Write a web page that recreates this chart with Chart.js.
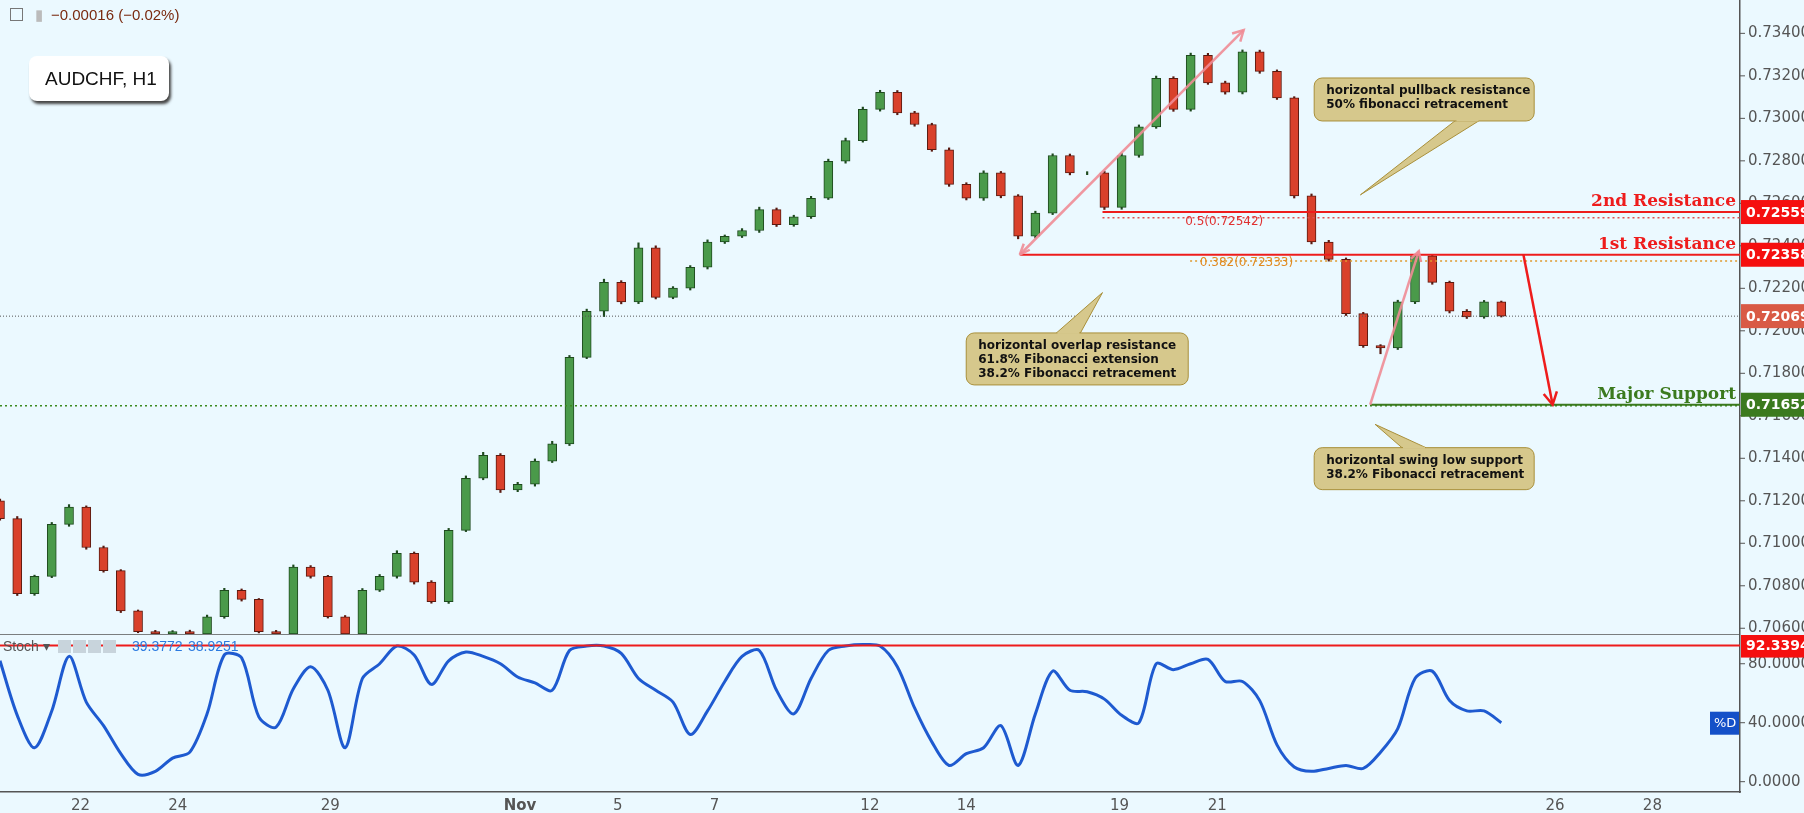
<!DOCTYPE html>
<html><head><meta charset="utf-8">
<script src="https://cdn.jsdelivr.net/npm/chart.js@4.4.1/dist/chart.umd.min.js"></script>
<style>
html,body{margin:0;padding:0;background:#ebf9ff;}
#w{position:relative;width:1804px;height:813px;background:#ebf9ff;font-family:"DejaVu Sans",sans-serif;}
canvas{position:absolute;left:0;}
#c1{top:0}#c2{top:635px}
#hdr{position:absolute;left:10px;top:6px;font-size:15px;color:#7a2a10;font-family:"Liberation Sans",sans-serif}
#sym{position:absolute;left:29px;top:56px;width:140px;height:45px;background:#fff;border-radius:8px;box-shadow:2px 3px 3px #444;font:19px "Liberation Sans",sans-serif;line-height:45px;padding-left:16px;box-sizing:border-box;color:#111}
</style></head><body>
<div id="w">
<canvas id="c1" width="1804" height="635"></canvas>
<canvas id="c2" width="1804" height="178"></canvas>
<div id="hdr"><span style="display:inline-block;width:11px;height:11px;border:1px solid #777;vertical-align:-1px;margin-right:12px"></span><span style="color:#bbb;margin-right:8px">&#9646;</span>−0.00016 (−0.02%)</div>
<div id="sym">AUDCHF, H1</div>
</div>
<script>
// ---- data ----
const tickLabels = ['22','24','29','Nov','5','7','12','14','19','21','26','28'];
const tickDays   = [0, 2.0, 5.13, 9.03, 11.04, 13.03, 16.22, 18.2, 21.35, 23.36, 30.3, 32.3];
const firstBarDay = -1.655, barStepDays = 0.3546;
const firstOpen = 0.7120;
const closes = [0.71116,0.70763,0.70844,0.71089,0.71170,0.70980,0.70871,0.70682,0.70584,0.70573,0.70584,0.70573,
0.70654,0.70779,0.70736,0.70584,0.70573,0.70888,0.70844,0.70654,0.70573,0.70779,0.70844,0.70953,0.70817,0.70725,
0.71061,0.71306,0.71414,0.71251,0.71278,0.71387,0.71468,0.71875,0.72092,0.72228,0.72136,0.72391,0.72157,0.72201,
0.72299,0.72418,0.72445,0.72472,0.72570,0.72499,0.72537,0.72624,0.72798,0.72895,0.73042,0.73123,0.73026,0.72971,
0.72852,0.72689,0.72624,0.72743,0.72635,0.72445,0.72554,0.72825,0.72743,0.72743,0.72581,0.72825,0.72960,0.73188,
0.73042,0.73297,0.73167,0.73123,0.73313,0.73221,0.73096,0.72635,0.72418,0.72336,0.72081,0.71930,0.71919,0.72136,
0.72353,0.72228,0.72092,0.72065,0.72136,0.72069];
const highExtPips = [8,10,6,9,12,6,7,5,4,6,5,7,8,9,6,4,6,10,7,5,6,8,9,12,6,7,9,11,14,8,9,10,12,9,10,15,8,23,9,7,
8,10,6,9,12,8,7,9,10,12,11,9,8,7,6,9,8,10,7,6,9,8,7,6,8,10,9,11,8,10,9,8,9,8,7,6,9,8,7,6,5,8,5,7,6,8,7,4];
const lowExtPips  = [7,9,8,6,9,8,7,8,5,6,7,6,9,7,8,6,5,7,8,6,9,7,6,8,9,7,8,6,7,12,8,9,7,8,6,25,9,8,7,6,
9,8,7,6,9,8,7,8,6,9,7,8,9,8,7,9,8,10,9,12,8,7,9,8,10,9,8,7,9,8,7,9,8,9,7,10,9,8,9,8,27,7,8,9,8,7,6,4];
const stochD = [82,45,23,48,85,54,38,19,5,7,16,20,46,86,84,44,37,63,78,62,23,70,80,92,86,66,82,88,85,80,71,67,62,89,
92,92,87,70,62,54,32,48,68,85,89,62,46,70,89,92,93,92,78,50,27,11,19,23,38,11,46,75,62,61,56,45,40,80,76,80,83,68,
68,55,25,10,7,9,11,9,20,36,70,75,55,48,48,40];
const priceTicks = [0.706,0.708,0.710,0.712,0.714,0.716,0.718,0.720,0.722,0.724,0.726,0.728,0.730,0.732,0.734];
const stochTicks = [0,40,80];
const levels = {r2:0.72559, r1:0.72358, fib50:0.72542, fib382:0.72333, cur:0.72069, sup:0.71652, stochHi:92.3394};

// ---- build ----
const n = Math.min(closes.length, highExtPips.length, lowExtPips.length);
const days = [], bodies = [], wicks = [], fill = [], edge = [];
for (let i=0;i<n;i++){
  const o = i===0?firstOpen:closes[i-1], c = closes[i];
  const d = firstBarDay + i*barStepDays; days.push(d);
  const hi = Math.max(o,c)+highExtPips[i]*1e-5, lo = Math.min(o,c)-lowExtPips[i]*1e-5;
  bodies.push({x:d,y:[o,c]}); wicks.push({x:d,y:[lo,hi]});
  const up = c>=o; fill.push(up?'#4a9a4a':'#d9412b'); edge.push(up?'#1e4a1e':'#5a1a10');
}
const stochPts = stochD.slice(0,n).map((v,i)=>({x:days[i],y:v}));
const XMIN=-1.655, XMAX=34.1, AXW=64;

const fixW = s=>{s.width=AXW;};
const xTicksBuild = ax=>{ax.ticks = tickDays.map(v=>({value:v}));};

function rr(ctx,x,y,w,h,r){ctx.beginPath();ctx.moveTo(x+r,y);ctx.arcTo(x+w,y,x+w,y+h,r);ctx.arcTo(x+w,y+h,x,y+h,r);ctx.arcTo(x,y+h,x,y,r);ctx.arcTo(x,y,x+w,y,r);ctx.closePath();}
function arrow(ctx,x1,y1,x2,y2,col,w,head){
  ctx.save();ctx.strokeStyle=col;ctx.lineWidth=w;ctx.beginPath();ctx.moveTo(x1,y1);ctx.lineTo(x2,y2);ctx.stroke();
  const a=Math.atan2(y2-y1,x2-x1);ctx.beginPath();
  ctx.moveTo(x2-head*Math.cos(a-0.5),y2-head*Math.sin(a-0.5));ctx.lineTo(x2,y2);ctx.lineTo(x2-head*Math.cos(a+0.5),y2-head*Math.sin(a+0.5));ctx.stroke();ctx.restore();
}
function callout(ctx,x,y,w,h,lines,tipX,tipY,baseX,baseY){
  ctx.save();
  ctx.fillStyle='#d6c88c';ctx.strokeStyle='#a88f3a';ctx.lineWidth=1;
  ctx.beginPath();ctx.moveTo(baseX-12,baseY);ctx.lineTo(tipX,tipY);ctx.lineTo(baseX+12,baseY);ctx.closePath();ctx.fill();ctx.stroke();
  rr(ctx,x,y,w,h,8);ctx.fill();ctx.stroke();
  ctx.beginPath();ctx.moveTo(baseX-11,baseY);ctx.lineTo(baseX+11,baseY);ctx.strokeStyle='#d6c88c';ctx.lineWidth=2;ctx.stroke();
  ctx.fillStyle='#111';ctx.font='bold 12px "DejaVu Sans"';ctx.textBaseline='top';
  lines.forEach((t,i)=>ctx.fillText(t,x+12,y+7+i*14));ctx.restore();
}
function axisTag(ctx,area,y,txt,bg){
  ctx.save();ctx.fillStyle=bg;ctx.fillRect(area.right+1,y-12,AXW,24);
  ctx.fillStyle='#fff';ctx.font='bold 14px "DejaVu Sans"';ctx.textBaseline='middle';ctx.fillText(txt,area.right+6,y+1);ctx.restore();
}
function yLabels(ch,vals,fmt){
  const ctx=ch.ctx,a=ch.chartArea,ys=ch.scales.y;ctx.save();ctx.fillStyle='#555';ctx.strokeStyle='#555';ctx.lineWidth=1;
  ctx.font='15px "DejaVu Sans"';ctx.textBaseline='middle';
  vals.forEach(v=>{const y=ys.getPixelForValue(v);ctx.beginPath();ctx.moveTo(a.right,y);ctx.lineTo(a.right+5,y);ctx.stroke();ctx.fillText(fmt(v),a.right+8,y);});
  ctx.restore();
}

const annot = {id:'annot', afterDatasetsDraw(ch){
  const ctx=ch.ctx, xs=ch.scales.x, ys=ch.scales.y, a=ch.chartArea;
  const X=v=>xs.getPixelForValue(v), Y=v=>ys.getPixelForValue(v);
  ctx.save();
  ctx.setLineDash([2,3]);ctx.strokeStyle='#3b8a1e';ctx.lineWidth=1.5;
  ctx.beginPath();ctx.moveTo(a.left,Y(levels.sup)+1);ctx.lineTo(a.right,Y(levels.sup)+1);ctx.stroke();
  ctx.strokeStyle='#555';ctx.lineWidth=1;ctx.setLineDash([1,2]);
  ctx.beginPath();ctx.moveTo(a.left,Y(levels.cur));ctx.lineTo(a.right,Y(levels.cur));ctx.stroke();
  ctx.setLineDash([2,3]);ctx.lineWidth=1.5;ctx.strokeStyle='#e05050';
  ctx.beginPath();ctx.moveTo(X(21.0),Y(levels.fib50)+2);ctx.lineTo(a.right,Y(levels.fib50)+2);ctx.stroke();
  ctx.strokeStyle='#e09a30';
  ctx.beginPath();ctx.moveTo(X(22.8),Y(levels.fib382)+1);ctx.lineTo(a.right,Y(levels.fib382)+1);ctx.stroke();
  ctx.setLineDash([]);
  ctx.lineWidth=2;ctx.strokeStyle='#ee1c1c';
  ctx.beginPath();ctx.moveTo(X(21.0),Y(levels.r2));ctx.lineTo(a.right,Y(levels.r2));ctx.stroke();
  ctx.beginPath();ctx.moveTo(X(19.3),Y(levels.r1));ctx.lineTo(a.right,Y(levels.r1));ctx.stroke();
  ctx.strokeStyle='#3b7a1e';
  ctx.beginPath();ctx.moveTo(X(26.5),Y(levels.sup));ctx.lineTo(a.right,Y(levels.sup));ctx.stroke();
  ctx.font='bold 17px "DejaVu Serif"';ctx.textAlign='right';ctx.textBaseline='bottom';
  ctx.fillStyle='#ee1c1c';ctx.fillText('2nd Resistance',a.right-4,Y(levels.r2)-2);ctx.fillText('1st Resistance',a.right-4,Y(levels.r1)-2);
  ctx.fillStyle='#3b7a1e';ctx.fillText('Major Support',a.right-4,Y(levels.sup)-2);
  ctx.textAlign='left';ctx.font='12px "DejaVu Sans"';ctx.fillStyle='#e03030';
  ctx.fillText('0.5(0.72542)',X(22.7),Y(levels.fib50)+12);
  ctx.fillStyle='#e08a20';ctx.fillText('0.382(0.72333)',X(23.0),Y(levels.fib382)+9);
  arrow(ctx,X(19.3),Y(0.72358),X(23.9),Y(0.73415),'rgba(240,140,150,0.9)',2.5,12);
  ctx.save();ctx.strokeStyle='rgba(240,140,150,0.9)';ctx.lineWidth=2.5;ctx.beginPath();
  ctx.moveTo(X(19.3),Y(0.72358));ctx.lineTo(X(19.3)+10,Y(0.72358)-5);ctx.moveTo(X(19.3),Y(0.72358));ctx.lineTo(X(19.3)+4,Y(0.72358)-11);ctx.stroke();ctx.restore();
  arrow(ctx,X(26.5),Y(0.71652),X(27.5),Y(0.72375),'rgba(240,140,150,0.9)',2.5,11);
  arrow(ctx,X(29.65),Y(0.72358),X(30.25),Y(0.71652),'#ee1c1c',2.5,14);
  callout(ctx,X(25.35),Y(0.73190),220,43,['horizontal pullback resistance','50% fibonacci retracement'],X(26.3),Y(0.72640),X(28.5),Y(0.72990));
  callout(ctx,X(18.2),Y(0.71990),222,52,['horizontal overlap resistance','61.8% Fibonacci extension','38.2% Fibonacci retracement'],X(21.0),Y(0.72180),X(20.3),Y(0.71990));
  callout(ctx,X(25.35),Y(0.71450),220,42,['horizontal swing low support','38.2% Fibonacci retracement'],X(26.6),Y(0.71560),X(27.4),Y(0.71450));
  ctx.restore();
}, afterDraw(ch){
  const ctx=ch.ctx, ys=ch.scales.y, a=ch.chartArea;
  yLabels(ch,priceTicks,v=>v.toFixed(5));
  axisTag(ctx,a,ys.getPixelForValue(levels.r2),'0.72559','#f50f0f');
  axisTag(ctx,a,ys.getPixelForValue(levels.r1),'0.72358','#f50f0f');
  axisTag(ctx,a,ys.getPixelForValue(levels.cur),'0.72069','#d95a45');
  axisTag(ctx,a,ys.getPixelForValue(levels.sup),'0.71652','#3b7a1e');
  ctx.save();ctx.strokeStyle='#555';ctx.lineWidth=1.5;ctx.beginPath();ctx.moveTo(0,a.bottom+1);ctx.lineTo(a.right,a.bottom+1);ctx.stroke();ctx.restore();
}};

new Chart(document.getElementById('c1'),{
  type:'bar',
  data:{datasets:[
    {data:wicks,backgroundColor:edge,barThickness:1.5,grouped:false,order:2},
    {data:bodies,backgroundColor:fill,borderColor:edge,borderWidth:1,borderSkipped:false,barThickness:9,grouped:false,order:1}
  ]},
  options:{responsive:false,animation:false,devicePixelRatio:1,
    layout:{padding:{top:0,bottom:1,left:0,right:0}},
    plugins:{legend:{display:false},tooltip:{enabled:false}},
    scales:{
      x:{type:'linear',min:XMIN,max:XMAX,offset:false,display:false},
      y:{position:'right',min:0.70573,max:0.73557,afterFit:fixW,
        grid:{display:false,drawTicks:false},border:{color:'#555',width:1.5},ticks:{display:false}}
    }},
  plugins:[annot]
});

const stochPlug={id:'st',afterDatasetsDraw(ch){
  const ctx=ch.ctx,a=ch.chartArea,ys=ch.scales.y;const y=ys.getPixelForValue(levels.stochHi);
  ctx.save();ctx.strokeStyle='#ee1c1c';ctx.lineWidth=2;ctx.beginPath();ctx.moveTo(a.left,y);ctx.lineTo(a.right,y);ctx.stroke();
  ctx.font='14px "Liberation Sans"';ctx.textBaseline='middle';ctx.fillStyle='#555';ctx.fillText('Stoch ▾',3,a.top+12);
  ctx.fillStyle='#c8d4dc';for(let i=0;i<4;i++)ctx.fillRect(58+i*15,a.top+5,13,13);
  ctx.fillStyle='#2a7ae0';ctx.fillText('39.3772',132,a.top+12);ctx.fillText('38.9251',188,a.top+12);
  const yd=ys.getPixelForValue(40);ctx.fillStyle='#1450c8';ctx.fillRect(a.right-30,yd-11,29,23);
  ctx.fillStyle='#fff';ctx.font='13px "DejaVu Sans"';ctx.fillText('%D',a.right-26,yd+1);ctx.restore();
},afterDraw(ch){yLabels(ch,stochTicks,v=>v.toFixed(4));axisTag(ch.ctx,ch.chartArea,ch.scales.y.getPixelForValue(levels.stochHi),'92.3394','#f50f0f');}};

new Chart(document.getElementById('c2'),{
  type:'line',
  data:{datasets:[{data:stochPts,borderColor:'#1e5ad0',borderWidth:3,pointRadius:0,tension:0.3,fill:false}]},
  options:{responsive:false,animation:false,devicePixelRatio:1,layout:{padding:0},
    plugins:{legend:{display:false},tooltip:{enabled:false}},
    scales:{
      x:{type:'linear',min:XMIN,max:XMAX,afterBuildTicks:xTicksBuild,afterFit:s=>{s.height=21;},
        grid:{display:false,tickLength:5,tickColor:'#555'},border:{color:'#555',width:1.5},
        ticks:{autoSkip:false,maxRotation:0,padding:0,color:'#555',font:c=>({size:15,family:'DejaVu Sans',weight:(c.tick&&c.tick.value===9.03)?'bold':'normal'}),
          callback:(v)=>{const i=tickDays.indexOf(v);return i>=0?tickLabels[i]:'';}}},
      y:{position:'right',min:-7,max:99.5,afterFit:fixW,
        grid:{display:false,drawTicks:false},border:{color:'#555',width:1.5},ticks:{display:false}}
    }},
  plugins:[stochPlug]
});
</script></body></html>
